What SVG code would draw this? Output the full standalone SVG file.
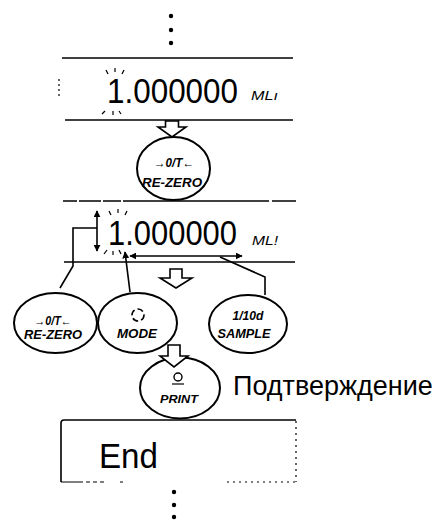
<svg xmlns="http://www.w3.org/2000/svg" width="443" height="521" viewBox="0 0 443 521">
<style>
.ln{stroke:#000;stroke-width:1.6;fill:none}
.thin{stroke:#000;stroke-width:1.2;fill:none}
.key{stroke:#000;stroke-width:2;fill:#fff}
.blk{stroke:#000;stroke-width:1.6;fill:#fff;stroke-linejoin:miter}
.seg{font-family:"Liberation Sans",Arial,sans-serif;fill:#000}
.kt{font-family:"Liberation Sans",Arial,sans-serif;font-style:italic;font-weight:bold;fill:#000;text-anchor:middle}
.unit{font-family:"Liberation Sans",Arial,sans-serif;font-style:italic;fill:#000}
.dot{fill:#000}
</style>
<defs>
<marker id="ah" viewBox="0 0 10 10" refX="9" refY="5" markerWidth="7" markerHeight="7" markerUnits="userSpaceOnUse" orient="auto-start-reverse">
<path d="M0,0 L10,5 L0,10 z" fill="#000"/>
</marker>
</defs>

<g id="dots-top">
<circle class="dot" cx="171" cy="16" r="2.2"/>
<circle class="dot" cx="171" cy="30" r="2.2"/>
<circle class="dot" cx="171" cy="43" r="2.2"/>
</g>

<g id="display1">
<line class="ln" x1="62" y1="58" x2="293" y2="58"/>
<line class="ln" x1="65" y1="120" x2="293" y2="120"/>
<line class="thin" x1="59" y1="79" x2="59" y2="96" stroke-dasharray="2 3"/>
<text class="seg" x="107" y="103" font-size="35" textLength="131" lengthAdjust="spacingAndGlyphs">1.000000</text>
<text class="unit" x="251" y="100" font-size="13" textLength="27" lengthAdjust="spacingAndGlyphs">MLı</text>
<g class="thin">
<line x1="106" y1="70" x2="108" y2="74"/>
<line x1="115" y1="68" x2="115" y2="72"/>
<line x1="124" y1="70" x2="122" y2="74"/>
<line x1="102" y1="114" x2="105" y2="111"/>
<line x1="113" y1="115" x2="113" y2="111"/>
<line x1="121" y1="114" x2="119" y2="111"/>
</g>
</g>

<g id="rezero1">
<ellipse class="key" cx="173.5" cy="168.5" rx="36.5" ry="31.5"/>
<text class="kt" x="174" y="167" font-size="12" textLength="40" lengthAdjust="spacingAndGlyphs">→0/T←</text>
<text class="kt" x="172" y="187" font-size="13" textLength="60" lengthAdjust="spacingAndGlyphs">RE-ZERO</text>
</g>

<g id="display2">
<line class="ln" x1="63" y1="201" x2="296" y2="201" stroke-dasharray="14 2 22 2 18 2 146 3 30"/>
<line class="ln" x1="64" y1="262" x2="295" y2="262"/>
<text class="seg" x="108" y="245" font-size="35" textLength="129" lengthAdjust="spacingAndGlyphs">1.000000</text>
<text class="unit" x="252" y="245" font-size="13" textLength="26" lengthAdjust="spacingAndGlyphs">ML!</text>
<g class="thin">
<line x1="109" y1="211" x2="111" y2="215"/>
<line x1="118" y1="209" x2="118" y2="213"/>
<line x1="127" y1="211" x2="125" y2="215"/>
<line x1="104" y1="254" x2="107" y2="250"/>
<line x1="113" y1="255" x2="113" y2="251"/>
<line x1="121" y1="254" x2="119" y2="250"/>
</g>
</g>

<g id="connectors">
<polygon class="blk" points="165.5,121 178.5,121 178.5,127 186,127 172,137 158,127 165.5,127"/>
<polygon class="blk" points="170,269 182,269 182,278 192,278 176,288 160,278 170,278"/>
<line class="ln" x1="97" y1="211" x2="97" y2="251" marker-start="url(#ah)" marker-end="url(#ah)"/>
<polyline class="ln" points="97,228 73,228 73,266 60,288"/>
<line class="ln" x1="130" y1="256" x2="242" y2="256" marker-start="url(#ah)" marker-end="url(#ah)"/>
<line class="ln" x1="130" y1="292" x2="125" y2="252" marker-end="url(#ah)"/>
<polyline class="ln" points="220,257 265,277 265,295"/>
</g>

<g id="rezero2">
<ellipse class="key" cx="55.5" cy="323" rx="41.5" ry="30"/>
<text class="kt" x="53" y="325" font-size="12" textLength="37" lengthAdjust="spacingAndGlyphs">→0/T←</text>
<text class="kt" x="53" y="339" font-size="13" textLength="58" lengthAdjust="spacingAndGlyphs">RE-ZERO</text>
</g>

<g id="mode">
<ellipse class="key" cx="137.5" cy="323" rx="39.5" ry="30"/>
<circle cx="138" cy="315" r="6" fill="none" stroke="#000" stroke-width="1.6" stroke-dasharray="6 3"/>
<text class="kt" x="137" y="338" font-size="13" font-weight="900" textLength="40" lengthAdjust="spacingAndGlyphs">MODE</text>
</g>

<g id="sample">
<ellipse class="key" cx="248" cy="324" rx="39" ry="29"/>
<text class="kt" x="248" y="320" font-size="12" font-style="normal" textLength="31" lengthAdjust="spacingAndGlyphs">1/10d</text>
<text class="kt" x="244" y="338" font-size="13" textLength="53" lengthAdjust="spacingAndGlyphs">SAMPLE</text>
</g>

<g id="print">
<ellipse class="key" cx="180" cy="388" rx="40" ry="30.5"/>
<polygon class="blk" points="168,345 180,345 180,356 188,356 174,367 160,356 168,356"/>
<circle cx="178" cy="377" r="4" fill="none" stroke="#000" stroke-width="1.4"/>
<line class="thin" x1="172" y1="384" x2="184" y2="384"/>
<text class="kt" x="179" y="403" font-size="11" font-weight="900" textLength="38" lengthAdjust="spacingAndGlyphs">PRINT</text>
</g>

<g id="label">
<text x="233" y="395" font-family="Liberation Sans,Arial,sans-serif" font-size="27" fill="#000">Подтверждение</text>
</g>

<g id="display3">
<path class="ln" d="M61,482 L61,423 Q61,420 64,420 L296,420"/>
<line class="thin" x1="296" y1="421" x2="296" y2="482" stroke-dasharray="2 4"/>
<line class="thin" x1="61" y1="482" x2="125" y2="482" stroke-dasharray="22 3 4 3 4 3 4 16 3 100"/>
<line class="thin" x1="227" y1="482" x2="296" y2="482" stroke-dasharray="2 4"/>
<text class="seg" x="99" y="468" font-size="35" textLength="59" lengthAdjust="spacingAndGlyphs">End</text>
</g>

<g id="dots-bottom">
<circle class="dot" cx="174" cy="492" r="2.2"/>
<circle class="dot" cx="174" cy="505" r="2.2"/>
<circle class="dot" cx="174" cy="517" r="2.2"/>
</g>
</svg>
